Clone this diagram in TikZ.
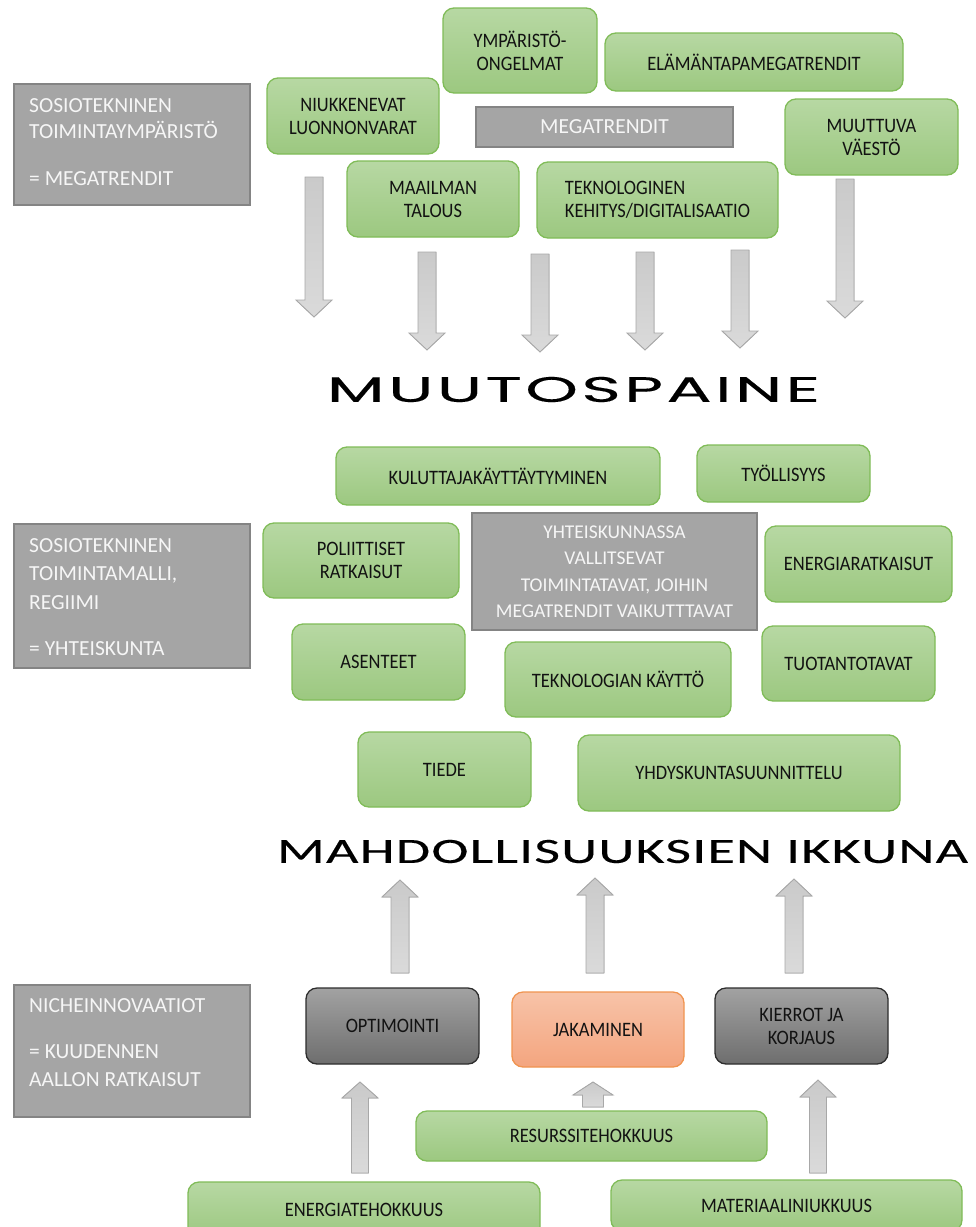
\documentclass[tikz,border=0pt]{standalone}
\usepackage{fontspec}
\usepackage{graphicx}
\setmainfont{Carlito}
\newfontfamily\boxfont[FakeStretch=0.9]{Carlito}
\newfontfamily\headfont[LetterSpace=5,FakeBold=0.25]{Poppins}
\newfontfamily\windowfont[LetterSpace=2,FakeBold=0.2]{Carlito}

\definecolor{greentop}{RGB}{183,216,163}
\definecolor{greenbot}{RGB}{156,200,128}
\definecolor{greenline}{RGB}{128,188,88}
\definecolor{panelgray}{RGB}{165,165,165}
\definecolor{panelline}{RGB}{132,132,132}
\definecolor{paneltext}{RGB}{246,246,246}
\definecolor{darktop}{RGB}{162,162,162}
\definecolor{darkbot}{RGB}{110,110,110}
\definecolor{darkline}{RGB}{45,45,45}
\definecolor{salmontop}{RGB}{247,195,168}
\definecolor{salmonbot}{RGB}{244,165,127}
\definecolor{salmonline}{RGB}{240,148,80}
\definecolor{arrowtop}{RGB}{202,202,202}
\definecolor{arrowbot}{RGB}{218,218,218}
\definecolor{arrowline}{RGB}{168,168,168}
\definecolor{labeltext}{RGB}{18,18,18}

% box placed by its corners: name, style, x1, y1, x2, y2, text
\newcommand\cornerbox[7]{%
  \node[#2, minimum width={(#5)-(#3)}, minimum height={(#6)-(#4)}]
    (#1) at ({((#3)+(#5))/2},{((#4)+(#6))/2}) {#7};}

% vertical block arrow: x, tail y, head base y, tip y, half shaft, half head
\newcommand\blockarrow[6]{%
  \filldraw[blockarrow] ({#1-#5},#2) -- ({#1-#5},#3) -- ({#1-#6},#3) -- (#1,#4)
    -- ({#1+#6},#3) -- ({#1+#5},#3) -- ({#1+#5},#2) -- cycle;}

\begin{document}
\begin{tikzpicture}[x=1pt,y=-1pt,
  boxbase/.style={rounded corners=11pt, inner sep=0pt, align=center,
    line width=1.3pt, text=labeltext, font=\boxfont\fontsize{20.5}{23}\selectfont},
  greenbox/.style={boxbase, draw=greenline, top color=greentop, bottom color=greenbot},
  darkbox/.style={boxbase, draw=darkline, top color=darktop, bottom color=darkbot},
  salmonbox/.style={boxbase, draw=salmonline, top color=salmontop, bottom color=salmonbot},
  panel/.style={draw=panelline, line width=1.3pt, fill=panelgray, inner sep=0pt,
    text=paneltext, align=center, font=\fontsize{21.5}{26.5}\selectfont},
  paneltitle/.style={inner sep=0pt, anchor=north west, align=left, text=paneltext},
  blockarrow/.style={top color=arrowtop, bottom color=arrowbot, draw=arrowline, line width=0.9pt},
  headline/.style={inner sep=0pt, text=black}]

\useasboundingbox (0,0) rectangle (976,1227);
\fill[white] (0,0) rectangle (976,1227);

% ---------- socio-technical landscape: megatrends ----------
\cornerbox{envpanel}{panel}{14}{84}{250}{205}{}
\node[paneltitle, font=\fontsize{21.5}{26}\selectfont] (envtext) at (29,98)
  {SOSIOTEKNINEN\\TOIMINTAYMPÄRISTÖ\\[21pt]= MEGATRENDIT};

\cornerbox{resources}{greenbox}{267}{78}{439}{154}{NIUKKENEVAT\\LUONNONVARAT}
\cornerbox{environment}{greenbox}{443}{8}{597}{93}{YMPÄRISTÖ-\\ONGELMAT}
\cornerbox{lifestyle}{greenbox}{605}{33}{903}{91}{ELÄMÄNTAPAMEGATRENDIT}
\cornerbox{megatrends}{panel}{476}{107}{733}{147}{MEGATRENDIT}
\cornerbox{population}{greenbox}{785}{99}{958}{175}{MUUTTUVA\\VÄESTÖ}
\cornerbox{economy}{greenbox}{347}{161}{519}{237}{MAAILMAN\\TALOUS}
\cornerbox{technology}{greenbox, align=left}{537}{162}{778}{238}{TEKNOLOGINEN\\KEHITYS/DIGITALISAATIO}

% pressure arrows
\blockarrow{314}{177}{300}{317}{9}{18}
\blockarrow{427}{252}{333}{350}{9}{18}
\blockarrow{540}{254}{335}{352}{9}{18}
\blockarrow{645}{252}{333}{350}{9}{18}
\blockarrow{740}{250}{331}{348}{9}{18}
\blockarrow{845}{179}{301}{318}{9}{18}

\node[headline] (pressure) at (573.5,389.5)
  {\resizebox{493pt}{25pt}{\headfont MUUTOSPAINE}};

% ---------- socio-technical regime: society ----------
\cornerbox{regpanel}{panel}{14}{524}{250}{668}{}
\node[paneltitle, font=\fontsize{21.5}{28.5}\selectfont] (regtext) at (29,538)
  {SOSIOTEKNINEN\\TOIMINTAMALLI,\\REGIIMI\\[17.5pt]= YHTEISKUNTA};

\cornerbox{consumers}{greenbox}{336}{447}{660}{505}{KULUTTAJAKÄYTTÄYTYMINEN}
\cornerbox{employment}{greenbox}{697}{445}{870}{502}{TYÖLLISYYS}
\cornerbox{politics}{greenbox}{263}{523}{459}{598}{POLIITTISET\\RATKAISUT}
\cornerbox{practices}{panel, font=\fontsize{19.5}{26.5}\selectfont}{472}{513}{757}{630}
  {YHTEISKUNNASSA\\VALLITSEVAT\\TOIMINTATAVAT, JOIHIN\\MEGATRENDIT VAIKUTTTAVAT}
\cornerbox{energysol}{greenbox}{765}{526}{952}{602}{ENERGIARATKAISUT}
\cornerbox{attitudes}{greenbox}{292}{624}{465}{700}{ASENTEET}
\cornerbox{techuse}{greenbox}{505}{642}{731}{717}{TEKNOLOGIAN KÄYTTÖ}
\cornerbox{production}{greenbox}{762}{626}{935}{701}{TUOTANTOTAVAT}
\cornerbox{science}{greenbox}{358}{732}{531}{807}{TIEDE}
\cornerbox{planning}{greenbox}{578}{735}{900}{811}{YHDYSKUNTASUUNNITTELU}

\node[headline] (window) at (622.5,851.5)
  {\resizebox{691pt}{23pt}{\windowfont MAHDOLLISUUKSIEN IKKUNA}};

% opportunity arrows
\blockarrow{400}{973}{897}{880}{9}{18}
\blockarrow{595}{973}{895}{878}{9}{18}
\blockarrow{794}{973}{896}{879}{9}{18}

% ---------- niche innovations ----------
\cornerbox{nichepanel}{panel}{14}{985}{250}{1117}{}
\node[paneltitle, font=\fontsize{21.5}{28}\selectfont] (nichetext) at (29,998)
  {NICHEINNOVAATIOT\\[18pt]= KUUDENNEN\\AALLON RATKAISUT};

\cornerbox{optim}{darkbox}{306}{988}{479}{1064}{OPTIMOINTI}
\cornerbox{sharing}{salmonbox}{512}{992}{684}{1067}{JAKAMINEN}
\cornerbox{cycles}{darkbox}{715}{988}{888}{1064}{KIERROT JA\\KORJAUS}

\blockarrow{360}{1173}{1098}{1082}{8.5}{18}
\blockarrow{593}{1107}{1095}{1082}{10.5}{20}
\blockarrow{818}{1173}{1097}{1080}{8.5}{18}

\cornerbox{resource}{greenbox}{416}{1111}{767}{1161}{RESURSSITEHOKKUUS}
\cornerbox{energyeff}{greenbox}{188}{1182}{540}{1238}{ENERGIATEHOKKUUS}
\cornerbox{material}{greenbox}{611}{1180}{962}{1231}{MATERIAALINIUKKUUS}

\end{tikzpicture}
\end{document}
